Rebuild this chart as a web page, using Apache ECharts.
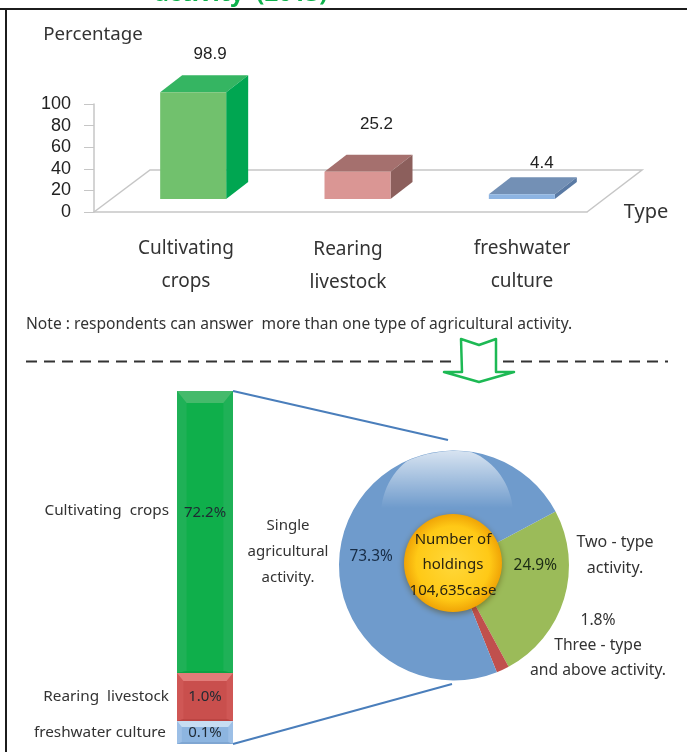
<!DOCTYPE html>
<html>
<head>
<meta charset="utf-8">
<script src="https://cdn.jsdelivr.net/npm/echarts@6/dist/echarts.min.js"></script>
<style>html,body{margin:0;padding:0;background:#fff}#c{width:687px;height:752px}</style>
</head>
<body>
<div id="c"></div>
<script>
// ---- data ----
var typeCategories = ['Cultivating crops', 'Rearing livestock', 'freshwater culture'];
var typeValues = [98.9, 25.2, 4.4];
var stackNames = ['Cultivating  crops', 'Rearing  livestock', 'freshwater culture'];
var stackLabels = ['72.2%', '1.0%', '0.1%'];
var stackDrawnShare = [79.9, 13.6, 6.5];   // the stack is not drawn to scale in the source
var pieNames = ['Two - type activity.', 'Three - type and above activity.', 'Single agricultural activity.'];
var pieValues = [24.9, 1.8, 73.3];
var holdingsLines = ['Number of', 'holdings', '104,635case'];

// ---- styles ----
var SANS = '"Noto Sans", sans-serif';
var ARIAL = '"Liberation Sans", sans-serif';
var INK = '#333333';
var barFaces = [
  { front: '#71C16D', top: '#35B562', side: '#00A651' },
  { front: '#DA9694', top: '#A5706E', side: '#8C5F5C' },
  { front: '#8DB4E2', top: '#7390B5', side: '#5A7AA4' }
];
var valueLift = [21, 30, 14];
var valueShift = [0, 2, 3];
var stackFaces = [
  { main: '#0FAF4B', top: '#45BA6B', side: '#1FB157', bottom: '#0CA243' },
  { main: '#C94F4D', top: '#E27C79', side: '#CF5755', bottom: '#BC4543' },
  { main: '#8DB5E0', top: '#C6DDF2', side: '#9CBFE6', bottom: '#7FA6D2' }
];
var stackLabelShift = [-19, 0, 0];
var stackNameOffset = [8, 8, 11];
var bevelSize = [12, 8, 6];

function polygon(points, fill) {
  return { type: 'polygon', shape: { points: points }, style: { fill: fill } };
}

function renderFloor(params, api) {
  var r = params.coordSys, b = r.y + r.height, dx = 56, dy = 42;
  return {
    type: 'polyline',
    shape: { points: [[r.x, b], [r.x + dx, b - dy], [r.x + r.width + dx - 1, b - dy], [r.x + r.width, b]] },
    style: { fill: 'none', stroke: '#C6C6C6', lineWidth: 1.5 }
  };
}

function renderBar3d(params, api) {
  var i = api.value(0), v = api.value(1);
  var c = api.coord([i, v]), base = api.coord([i, 0]);
  var w = 66, dx = 22, dy = 17;
  var x0 = c[0] + 17 - w / 2, x1 = x0 + w;
  var y1 = base[1] - 13, y0 = c[1] - 13;
  var f = barFaces[i];
  return {
    type: 'group',
    children: [
      polygon([[x0, y0], [x1, y0], [x1 + dx, y0 - dy], [x0 + dx, y0 - dy]], f.top),
      polygon([[x1, y0], [x1 + dx, y0 - dy], [x1 + dx, y1 - dy], [x1, y1]], f.side),
      { type: 'rect', shape: { x: x0, y: y0, width: w, height: y1 - y0 }, style: { fill: f.front } },
      { type: 'text', style: { text: v.toFixed(1), x: x0 + w / 2 + 17 + valueShift[i], y: y0 - dy - valueLift[i], textAlign: 'center', textVerticalAlign: 'middle', font: '17px ' + ARIAL, fill: '#222' } }
    ]
  };
}

function renderStack(params, api) {
  var i = api.value(0), from = api.value(1), to = api.value(2);
  var a = api.coord([0, to]), b = api.coord([0, from]);
  var w = api.size([1, 0])[0];
  var x0 = a[0] - w / 2, x1 = x0 + w, y0 = a[1], y1 = b[1];
  var s = bevelSize[i], f = stackFaces[i], mid = (y0 + y1) / 2;
  return {
    type: 'group',
    children: [
      { type: 'rect', shape: { x: x0, y: y0, width: w, height: y1 - y0 }, style: { fill: f.main } },
      polygon([[x0, y0], [x0 + s * .8, y0 + s], [x0 + s * .8, y1 - 2], [x0, y1]], f.side),
      polygon([[x1, y0], [x1 - s * .8, y0 + s], [x1 - s * .8, y1 - 2], [x1, y1]], f.side),
      polygon([[x0, y0], [x1, y0], [x1 - s * .8, y0 + s], [x0 + s * .8, y0 + s]], f.top),
      polygon([[x0 + s * .8, y1 - 2], [x1 - s * .8, y1 - 2], [x1, y1], [x0, y1]], f.bottom),
      { type: 'text', style: { text: stackLabels[i], x: (x0 + x1) / 2, y: mid + stackLabelShift[i], textAlign: 'center', textVerticalAlign: 'middle', font: '15px ' + SANS, fill: '#1f2a33' } },
      { type: 'text', style: { text: stackNames[i], x: x0 - stackNameOffset[i], y: mid + (i === 0 ? -21 : 0), textAlign: 'right', textVerticalAlign: 'middle', font: '15.3px ' + SANS, fill: INK } }
    ]
  };
}

var stackRows = [], runningTop = 100;
stackDrawnShare.forEach(function (share, i) {
  stackRows.push([i, runningTop - share, runningTop]);
  runningTop -= share;
});

function label(text, x, y, size, extra) {
  var st = { text: text, x: x, y: y, fill: INK, font: size + 'px ' + SANS, textAlign: 'center', textVerticalAlign: 'middle' };
  for (var k in (extra || {})) st[k] = extra[k];
  return { type: 'text', z: 20, style: st };
}
function straight(x1, y1, x2, y2, stroke, width, dash) {
  return { type: 'line', z: 5, shape: { x1: x1, y1: y1, x2: x2, y2: y2 }, style: { stroke: stroke, lineWidth: width, lineDash: dash || null } };
}

// gloss on top of the pie: an ellipse trimmed to the pie's circle
var PIE = { x: 454, y: 565.5, r: 115 };
var glossPoints = [];
for (var deg = 0; deg < 360; deg += 4) {
  var px = 447 + 66 * Math.cos(deg * Math.PI / 180), py = 515 + 68 * Math.sin(deg * Math.PI / 180);
  if (py > 508) py = 508;
  var ddx = px - PIE.x, ddy = py - PIE.y, dist = Math.sqrt(ddx * ddx + ddy * ddy);
  if (dist > PIE.r - 0.5) { px = PIE.x + ddx / dist * (PIE.r - 0.5); py = PIE.y + ddy / dist * (PIE.r - 0.5); }
  glossPoints.push([px, py]);
}

var categoryCentres = [186, 348, 522];
var categoryRows = [265, 266, 265];
var categoryLines = typeCategories.map(function (n) { return n.replace(' ', '\n'); });

var graphics = [
  label('activity  (2013)', 241, -6, 24, { fill: '#0DB14B', font: 'bold 24px ' + SANS }),
  { type: 'rect', z: 4, shape: { x: 0, y: 8, width: 687, height: 2 }, style: { fill: '#1c1c1c' } },
  { type: 'rect', z: 4, shape: { x: 5, y: 8, width: 2, height: 744 }, style: { fill: '#1c1c1c' } },
  label('Percentage', 93, 35, 18.7),
  label('Type', 646, 212, 20),
  label('Note : respondents can answer  more than one type of agricultural activity.', 26, 325, 15.6, { textAlign: 'left' }),
  straight(26, 361.5, 455, 361.5, '#333', 2, [11, 7]),
  straight(503, 361.5, 668, 361.5, '#333', 2, [11, 7]),
  { type: 'polygon', z: 6, shape: { points: [[461, 339], [479, 345], [496, 339], [496, 372], [514, 372], [479, 382], [444, 372], [462, 372]] }, style: { fill: '#fff', stroke: '#1DB954', lineWidth: 2.5, lineJoin: 'round' } },
  straight(233, 391, 448, 440, '#4A7EBB', 2),
  straight(233, 744, 452, 684, '#4A7EBB', 2),
  label('Single\nagricultural\nactivity.', 288, 552, 15, { lineHeight: 26 }),
  label('Two - type\nactivity.', 615, 555, 16, { lineHeight: 26 }),
  label('1.8%\nThree - type\nand above activity.', 598, 646, 15.7, { lineHeight: 25 }),
  { type: 'polygon', z: 12, shape: { points: glossPoints }, style: { fill: { type: 'linear', x: 0, y: 0, x2: 0, y2: 1, colorStops: [{ offset: 0, color: 'rgba(255,255,255,0.72)' }, { offset: 1, color: 'rgba(255,255,255,0)' }] } } },
  { type: 'circle', z: 14, shape: { cx: 453, cy: 563, r: 49 }, style: { shadowBlur: 6, shadowColor: 'rgba(80,60,0,0.5)', shadowOffsetY: 2, fill: { type: 'radial', x: 0.5, y: 0.5, r: 0.5, colorStops: [{ offset: 0, color: '#FFD83A' }, { offset: 0.75, color: '#FFC916' }, { offset: 1, color: '#F0A406' }] } } },
  label(holdingsLines.join('\n'), 453, 565, 15, { lineHeight: 25.5, fill: '#2a2410' })
];
categoryLines.forEach(function (t, i) {
  graphics.push(label(t, categoryCentres[i], categoryRows[i], 19, { lineHeight: 33 }));
});

var chart = echarts.init(document.getElementById('c'), null, { renderer: 'canvas' });
chart.setOption({
  animation: false,
  backgroundColor: '#ffffff',
  grid: [
    { left: 94, top: 104, width: 493, height: 108, containLabel: false },
    { left: 177, top: 391, width: 56, height: 353, containLabel: false }
  ],
  xAxis: [
    { type: 'category', gridIndex: 0, data: typeCategories, axisLine: { lineStyle: { color: '#C6C6C6', width: 1.5 } }, axisTick: { length: 4, lineStyle: { color: '#C6C6C6' } }, axisLabel: { show: false } },
    { type: 'category', gridIndex: 1, data: ['stack'], show: false }
  ],
  yAxis: [
    { type: 'value', gridIndex: 0, min: 0, max: 100, interval: 20, splitLine: { show: false },
      axisLine: { show: true, lineStyle: { color: '#C6C6C6', width: 1.5 } }, axisTick: { show: true, length: 10, lineStyle: { color: '#C6C6C6' } },
      axisLabel: { color: '#222', fontFamily: ARIAL, fontSize: 18, margin: 23, padding: [3, 0, 0, 0] } },
    { type: 'value', gridIndex: 1, min: 0, max: 100, show: false }
  ],
  series: [
    { type: 'custom', xAxisIndex: 0, yAxisIndex: 0, z: 1, silent: true, data: [[0, 0]], renderItem: renderFloor, clip: false },
    { type: 'custom', name: 'Type', xAxisIndex: 0, yAxisIndex: 0, z: 3, renderItem: renderBar3d, clip: false,
      data: typeValues.map(function (v, i) { return [i, v]; }) },
    { type: 'custom', name: 'Single agricultural activity', xAxisIndex: 1, yAxisIndex: 1, z: 3, renderItem: renderStack, clip: false,
      encode: { x: 0, y: 2 }, data: stackRows },
    { type: 'pie', name: 'Number of holdings', z: 3, center: [PIE.x, PIE.y], radius: [30, PIE.r], startAngle: 28, clockwise: true, silent: true,
      color: ['#9BBB59', '#C0504D', '#6F9BCC'],
      label: { show: false }, labelLine: { show: false },
      data: [
        { name: pieNames[0], value: pieValues[0], label: { show: true, position: 'inside', formatter: '{c}%', color: '#1b2a14', fontSize: 15.4, fontFamily: SANS, offset: [9, -22] } },
        { name: pieNames[1], value: pieValues[1] },
        { name: pieNames[2], value: pieValues[2], label: { show: true, position: 'inside', formatter: '{c}%', color: '#172c45', fontSize: 15.4, fontFamily: SANS, offset: [-12, 17] } }
      ] }
  ],
  graphic: { elements: graphics }
});
</script>
</body>
</html>
